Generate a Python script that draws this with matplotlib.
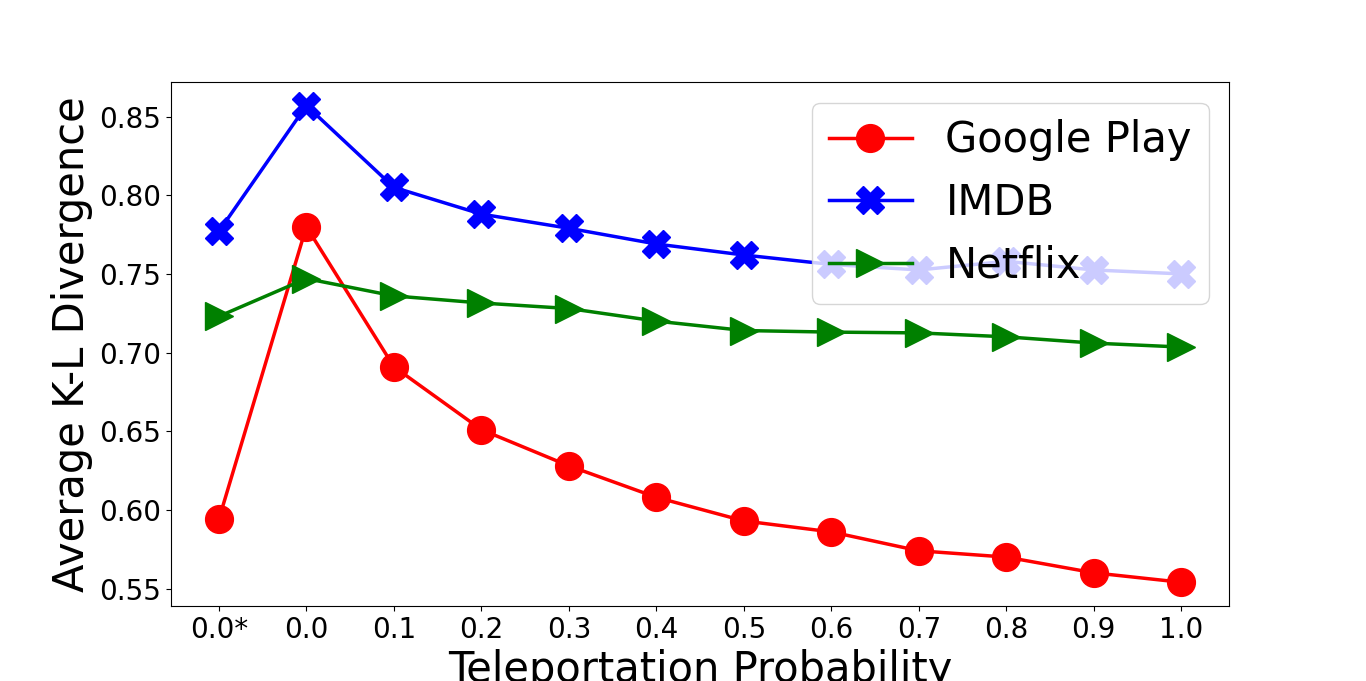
import matplotlib
matplotlib.use('Agg')
import matplotlib.pyplot as plt

x_labels = ['0.0*', '0.0', '0.1', '0.2', '0.3', '0.4', '0.5', '0.6', '0.7', '0.8', '0.9', '1.0']
google_play = [0.594, 0.780, 0.691, 0.651, 0.628, 0.608, 0.593, 0.586, 0.574, 0.570, 0.560, 0.554]
imdb = [0.777, 0.857, 0.805, 0.788, 0.779, 0.769, 0.762, 0.756, 0.7525, 0.758, 0.7525, 0.750]
netflix = [0.723, 0.747, 0.736, 0.7315, 0.728, 0.720, 0.714, 0.713, 0.7125, 0.710, 0.706, 0.7035]

x = list(range(len(x_labels)))

fig = plt.figure(figsize=(13.66, 6.81), dpi=100)
ax = fig.add_subplot(111)
ax.plot(x, google_play, color='red', marker='o', markersize=20, linewidth=2.5, label='Google Play')
ax.plot(x, imdb, color='blue', marker='X', markersize=20, linewidth=2.5, label='IMDB')
ax.plot(x, netflix, color='green', marker='>', markersize=20, linewidth=2.5, label='Netflix')

ax.set_xticks(x)
ax.set_xticklabels(x_labels)
ax.tick_params(labelsize=20)
ax.set_xlabel('Teleportation Probability', fontsize=30)
ax.set_ylabel('Average K-L Divergence', fontsize=30)
ax.legend(loc='upper right', fontsize=30)

fig.savefig('out.png', dpi=100)
